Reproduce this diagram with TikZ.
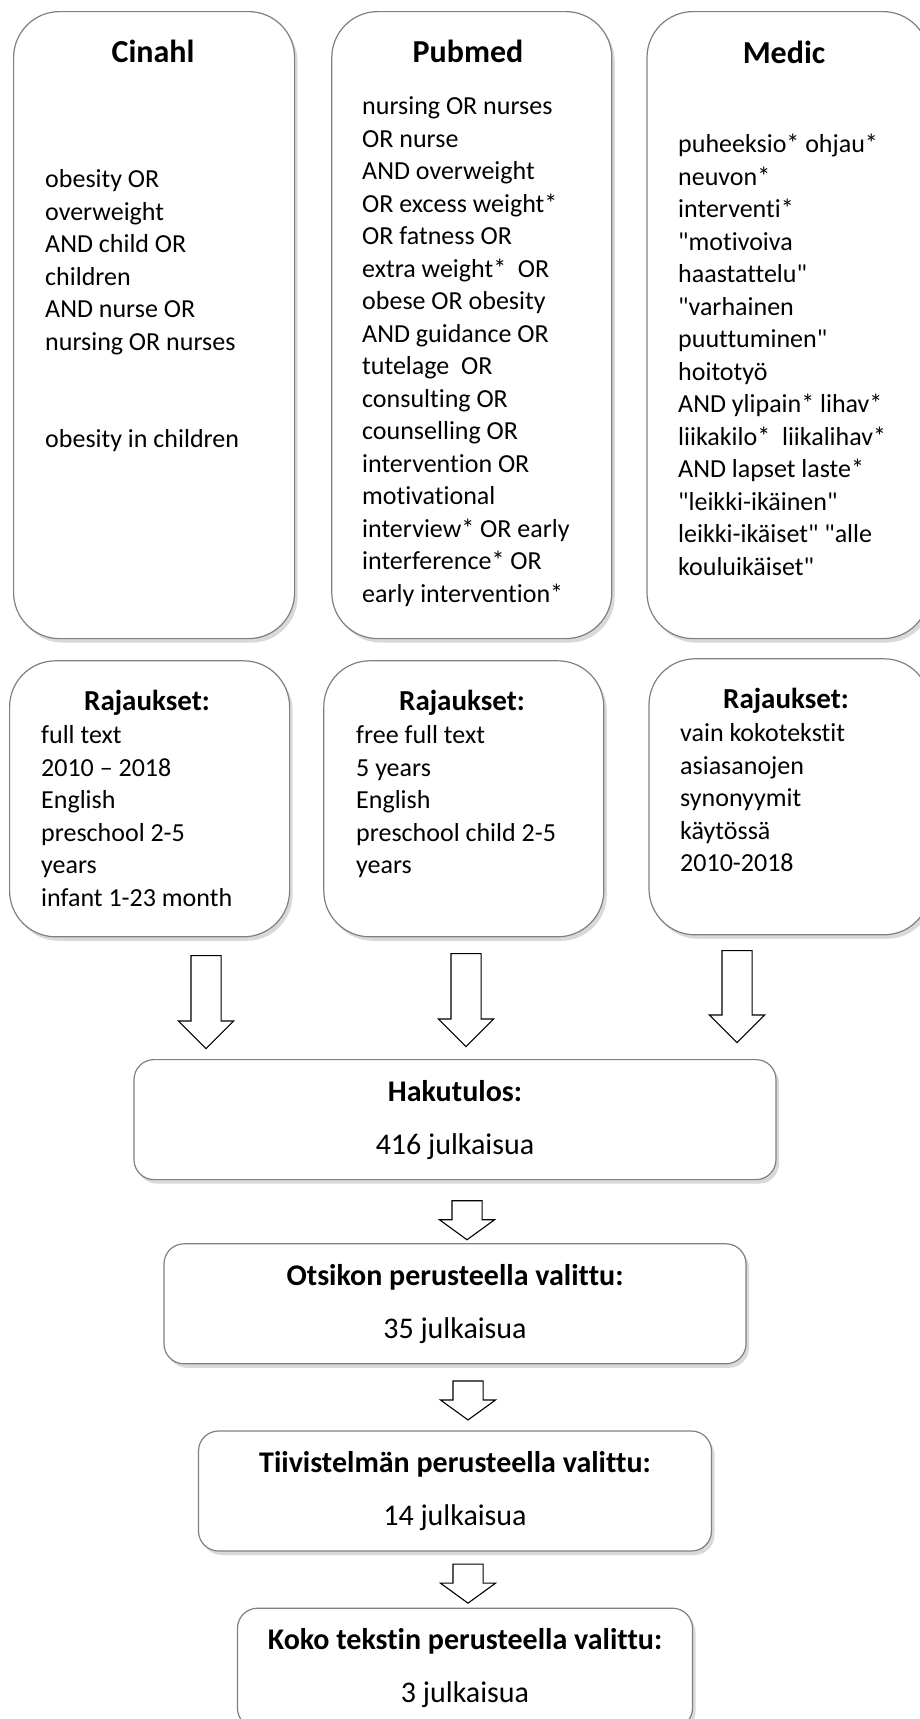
\documentclass[tikz,border=0pt]{standalone}
\usepackage{fontspec}
\setmainfont{Carlito}[Ligatures={TeXOff,NoCommon}]
\usetikzlibrary{positioning,calc,shapes.arrows,shadows}

\begin{document}
\begin{tikzpicture}[
  x=1pt, y=-1pt,
  dbbox/.style={draw=black!50, line width=1.2pt, fill=white, rounded corners=46pt,
    anchor=north west, minimum width=281pt, minimum height=627pt,
    drop shadow={shadow xshift=3pt, shadow yshift=-4pt, opacity=.3}},
  limbox/.style={dbbox, minimum height=276pt},
  resbox/.style={dbbox, rounded corners=20pt, anchor=north, align=center,
    minimum height=120pt, font=\fontsize{30}{53}\selectfont},
  dbtitle/.style={anchor=base, inner sep=0pt, font=\fontsize{32}{38}\selectfont\bfseries},
  limtitle/.style={anchor=base, inner sep=0pt, font=\fontsize{29}{35}\selectfont\bfseries},
  terms/.style={anchor=north west, inner sep=0pt, align=left,
    font=\fontsize{26}{32.5}\selectfont},
  bigarr/.style={draw=black, line width=1.1pt, fill=white, single arrow, rotate=-90,
    anchor=tail, inner xsep=0pt, inner ysep=14.5pt,
    single arrow head extend=12.5pt, minimum height=93pt},
  smallarr/.style={bigarr, single arrow tip angle=108, minimum height=39pt}
]
\useasboundingbox (0,0) rectangle (919,1719);

% --- databases: search terms ---
\node[dbbox] (cinahl) at (13,11) {};
\node[dbbox, right=36pt of cinahl.north east, anchor=north west, minimum width=280pt] (pubmed) {};
\node[dbbox, right=34pt of pubmed.north east, anchor=north west, minimum width=282pt] (medic) {};

\node[dbtitle] (cinahlT) at (153,62) {Cinahl};
\node[dbtitle] (pubmedT) at (468,62) {Pubmed};
\node[dbtitle] (medicT) at (784,63) {Medic};

\node[terms] (cinahlQ) at (45,165) {\strut obesity OR\\overweight\\AND child OR\\children\\
  AND nurse OR\\nursing OR nurses\\[65pt]obesity in children};
\node[terms] (pubmedQ) at (362,92) {\strut nursing OR nurses\\OR nurse\\AND overweight\\
  OR excess weight*\\OR fatness OR\\extra weight*~ OR\\obese OR obesity\\AND guidance OR\\
  tutelage~ OR\\consulting OR\\counselling OR\\intervention OR\\motivational\\
  interview* OR early\\interference* OR\\early intervention*};
\node[terms] (medicQ) at (678,130) {\strut puheeksio* ohjau*\\neuvon*\\interventi*\\
  "motivoiva\\haastattelu"\\"varhainen\\puuttuminen"\\hoitotyö\\AND ylipain* lihav*\\
  liikakilo*~ liikalihav*\\AND lapset laste*\\"leikki-ikäinen"\\leikki-ikäiset" "alle\\
  kouluikäiset"};

% --- limits ---
\node[limbox, below=21pt of cinahl.south west, anchor=north west, xshift=-4pt, minimum width=280pt] (limC) {};
\node[limbox, below=21pt of pubmed.south west, anchor=north west, xshift=-8pt, minimum width=280pt] (limP) {};
\node[limbox, below=19pt of medic.south west, anchor=north west, xshift=2pt] (limM) {};

\node[limtitle] (limCT) at (147,710) {Rajaukset:};
\node[limtitle] (limPT) at (462,710) {Rajaukset:};
\node[limtitle] (limMT) at (786,708) {Rajaukset:};

\node[terms] (limCQ) at (41,721) {\strut full text\\2010 – 2018\\English\\preschool 2-5\\
  years\\infant 1-23 month};
\node[terms] (limPQ) at (356,721) {\strut free full text\\5 years\\English\\
  preschool child 2-5\\years};
\node[terms] (limMQ) at (680,719) {\strut vain kokotekstit\\asiasanojen\\synonyymit\\
  käytössä\\2010-2018};

% --- block arrows into results ---
\node[bigarr] (a1) at (206,955) {};
\node[bigarr] (a2) at (466,953) {};
\node[bigarr, minimum height=92pt] (a3) at (737,950) {};

% --- screening chain ---
\node[resbox, minimum width=642pt] (hits) at (455,1059) {\textbf{Hakutulos:}\\416 julkaisua};
\node[smallarr] (s1) at ($(hits.south)+(12,20)$) {};
\node[resbox, minimum width=582pt, below=63pt of hits] (bytitle)
  {\textbf{Otsikon perusteella valittu:}\\35 julkaisua};
\node[smallarr] (s2) at ($(bytitle.south)+(13,16)$) {};
\node[resbox, minimum width=513pt, below=66pt of bytitle] (byabs)
  {\textbf{Tiivistelmän perusteella valittu:}\\14 julkaisua};
\node[smallarr] (s3) at ($(byabs.south)+(13,12)$) {};
\node[resbox, minimum width=455pt, below=56pt of byabs, xshift=10pt] (byfull)
  {\textbf{Koko tekstin perusteella valittu:}\\3 julkaisua};
\end{tikzpicture}
\end{document}
